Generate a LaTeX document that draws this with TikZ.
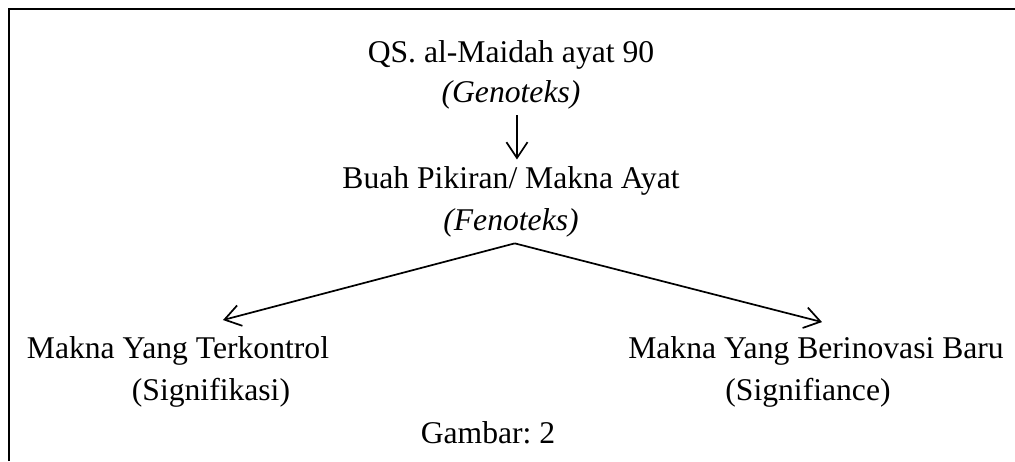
\documentclass[tikz,border=0pt]{standalone}
\usepackage{fontspec}
\setmainfont{Liberation Serif}
\usetikzlibrary{positioning, arrows.meta}
\frenchspacing

\begin{document}
\begin{tikzpicture}[every node/.style={font=\fontsize{12pt}{14pt}\selectfont, inner sep=2.3pt, anchor=base},
                    panah/.style={-{Straight Barb[length=6pt,width=8pt]}, line width=0.65pt}]

        \useasboundingbox (0,0) rectangle (13.533,6.147);

        % Frame
        \draw[line width=0.8pt] (0.12,0) -- (0.12,6.027) -- (13.533,6.027);

        % Nodes
        \node (qs) at (6.813,5.32) {QS. al-Maidah ayat 90};
        \node (geno) at (6.813,4.787) {\textit{(Genoteks)}};
        \node (buah) at (6.813,3.64) {Buah Pikiran/ Makna Ayat};
        \node (feno) at (6.813,3.08) {\textit{(Fenoteks)}};
        \node (kontrol) at (2.373,1.373) {Makna Yang Terkontrol};
        \node (signifikasi) at (2.813,0.813) {(Signifikasi)};
        \node (inovasi) at (10.88,1.373) {Makna Yang Berinovasi Baru};
        \node (signifiance) at (10.773,0.813) {(Signifiance)};
        \node (gambar) at (6.507,0.24) {Gambar: 2};

        \coordinate (kiri) at (2.973,1.88);
        \coordinate (kanan) at (10.96,1.853);

        % Edges
        \draw[panah] ([xshift=0.08cm]geno.south) -- ([xshift=0.08cm]buah.north);
        \draw[panah] ([xshift=0.05cm]feno.south) -- (kiri);
        \draw[panah] ([xshift=0.05cm]feno.south) -- (kanan);

    \end{tikzpicture}
\end{document}
